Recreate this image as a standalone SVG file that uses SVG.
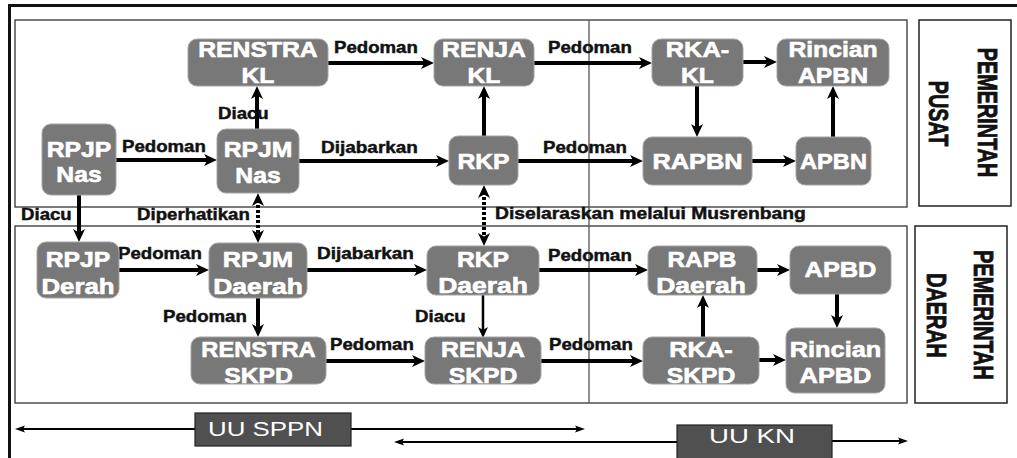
<svg xmlns="http://www.w3.org/2000/svg" width="1017" height="458" viewBox="0 0 1017 458">
<style>
.bg{fill:#fff}
.panel{fill:none;stroke:#333;stroke-width:1.3}
.lbox{fill:#fff;stroke:#222;stroke-width:1.5}
.n rect{fill:#787878;stroke:#a4a4a4;stroke-width:1}
.nt{font-family:"Liberation Sans",Arial,sans-serif;font-weight:bold;font-size:21.5px;fill:#fff;stroke:#fff;stroke-width:0.6;text-anchor:middle}
.lb{font-family:"Liberation Sans",Arial,sans-serif;font-weight:bold;font-size:16.5px;fill:#111;stroke:#111;stroke-width:0.45}
.vt{font-family:"Liberation Sans",Arial,sans-serif;font-weight:bold;font-size:19.8px;fill:#111;stroke:#111;stroke-width:0.6;text-anchor:middle}
.c{fill:none;stroke:#000;stroke-width:4;marker-end:url(#ah)}
.thin{fill:none;stroke:#000;stroke-width:2.5;marker-end:url(#ahm)}
.dot{fill:none;stroke:#000;stroke-width:4;stroke-dasharray:3 2;marker-start:url(#ah);marker-end:url(#ah)}
.bar{fill:none;stroke:#000;stroke-width:2;marker-end:url(#ahs)}
.ub{fill:#505050;stroke:#222;stroke-width:1.2}
.ut{font-family:"Liberation Sans",Arial,sans-serif;font-size:19.5px;fill:#fff}
</style>
<defs>
<marker id="ah" markerUnits="userSpaceOnUse" markerWidth="14" markerHeight="14" viewBox="0 0 14 14" refX="6" refY="7" orient="auto-start-reverse">
<path d="M0,1 L13,7 L0,13 L3.5,7 Z" fill="#000"/>
</marker>
<marker id="ahm" markerUnits="userSpaceOnUse" markerWidth="12" markerHeight="12" viewBox="0 0 12 12" refX="5" refY="6" orient="auto">
<path d="M0,1 L11,6 L0,11 L3,6 Z" fill="#000"/>
</marker>
<marker id="ahs" markerUnits="userSpaceOnUse" markerWidth="11" markerHeight="8" viewBox="0 0 11 8" refX="4" refY="4" orient="auto">
<path d="M0,0.5 L10,4 L0,7.5 L2,4 Z" fill="#000"/>
</marker>
</defs>
<rect class="bg" x="0" y="0" width="1017" height="458"/>
<path d="M9.5,458 V5.5 H1017" fill="none" stroke="#111" stroke-width="3"/>
<rect class="panel" x="15" y="20" width="892" height="187"/>
<rect class="panel" x="15" y="226" width="892" height="177"/>
<line x1="589" y1="20" x2="589" y2="403" stroke="#555" stroke-width="1.3"/>
<g id="label-pusat">
<rect class="lbox" x="919" y="20" width="92" height="186"/>
<text class="vt" transform="translate(988,112.5) rotate(90) scale(1,1.4)" y="7">PEMERINTAH</text>
<text class="vt" transform="translate(938.5,113.5) rotate(90) scale(1,1.4)" y="7">PUSAT</text>
</g>
<g id="label-daerah">
<rect class="lbox" x="915" y="226" width="92" height="177"/>
<text class="vt" transform="translate(984,315) rotate(90) scale(1,1.4)" y="7">PEMERINTAH</text>
<text class="vt" transform="translate(937,315.5) rotate(90) scale(1,1.4)" y="7">DAERAH</text>
</g>
<g id="connectors">
<path class="c" d="M116,160 H210"/>
<path class="c" d="M257,129 V93"/>
<path class="c" d="M328,63 H427"/>
<path class="c" d="M299,161 H442"/>
<path class="c" d="M484,136 V93"/>
<path class="c" d="M534,63 H645"/>
<path class="c" d="M518,161 H636"/>
<path class="c" d="M743,62 H770"/>
<path class="c" d="M697,86 V130"/>
<path class="c" d="M752,161 H789"/>
<path class="c" d="M833,137 V93"/>
<path class="c" d="M79,195 V235"/>
<path class="dot" d="M258,200 V236"/>
<path class="dot" d="M484,192 V239"/>
<path class="c" d="M119,270 H202"/>
<path class="c" d="M258,298 V330"/>
<path class="c" d="M307,270 H420"/>
<path class="thin" d="M483,295 V332"/>
<path class="c" d="M326,361 H418"/>
<path class="c" d="M539,270 H641"/>
<path class="c" d="M541,361 H636"/>
<path class="c" d="M703,337 V302"/>
<path class="c" d="M757,270 H783"/>
<path class="c" d="M837,294 V321"/>
<path class="c" d="M759,360 H779"/>
<text class="lb" transform="translate(122,152) scale(1.13,1)">Pedoman</text>
<text class="lb" transform="translate(218,119) scale(1.13,1)">Diacu</text>
<text class="lb" transform="translate(334,53) scale(1.13,1)">Pedoman</text>
<text class="lb" transform="translate(321,153) scale(1.15,1)">Dijabarkan</text>
<text class="lb" transform="translate(548,53) scale(1.13,1)">Pedoman</text>
<text class="lb" transform="translate(543,153) scale(1.13,1)">Pedoman</text>
<text class="lb" transform="translate(21,220) scale(1.13,1)">Diacu</text>
<text class="lb" transform="translate(137,220) scale(1.13,1)">Diperhatikan</text>
<text class="lb" transform="translate(495,219) scale(1.17,1)">Diselaraskan melalui Musrenbang</text>
<text class="lb" transform="translate(118,259) scale(1.13,1)">Pedoman</text>
<text class="lb" transform="translate(317,259) scale(1.15,1)">Dijabarkan</text>
<text class="lb" transform="translate(163,322) scale(1.13,1)">Pedoman</text>
<text class="lb" transform="translate(330,350) scale(1.13,1)">Pedoman</text>
<text class="lb" transform="translate(415,322) scale(1.13,1)">Diacu</text>
<text class="lb" transform="translate(548,261) scale(1.13,1)">Pedoman</text>
<text class="lb" transform="translate(549,350) scale(1.13,1)">Pedoman</text>
</g>
<g id="n-rpjp-nas" class="n"><rect x="42" y="124" width="74" height="71" rx="9"/>
<text class="nt" transform="translate(79,157) scale(1.15,1)">RPJP</text><text class="nt" transform="translate(79,182) scale(1.15,1)">Nas</text></g>
<g id="n-rpjm-nas" class="n"><rect x="217" y="129" width="82" height="64" rx="9"/>
<text class="nt" transform="translate(258,157) scale(1.15,1)">RPJM</text><text class="nt" transform="translate(258,183) scale(1.15,1)">Nas</text></g>
<g id="n-renstra-kl" class="n"><rect x="188" y="39" width="140" height="47" rx="9"/>
<text class="nt" transform="translate(258,57) scale(1.15,1)">RENSTRA</text><text class="nt" transform="translate(258,83) scale(1.15,1)">KL</text></g>
<g id="n-renja-kl" class="n"><rect x="434" y="39" width="100" height="47" rx="9"/>
<text class="nt" transform="translate(484,57) scale(1.15,1)">RENJA</text><text class="nt" transform="translate(484,83) scale(1.15,1)">KL</text></g>
<g id="n-rkp" class="n"><rect x="449" y="136" width="69" height="49" rx="9"/>
<text class="nt" transform="translate(483.5,169) scale(1.15,1)">RKP</text></g>
<g id="n-rka-kl" class="n"><rect x="652" y="39" width="91" height="47" rx="9"/>
<text class="nt" transform="translate(697.5,57) scale(1.18,1)">RKA-</text><text class="nt" transform="translate(697.5,83) scale(1.15,1)">KL</text></g>
<g id="n-rincian-apbn" class="n"><rect x="777" y="39" width="112" height="47" rx="9"/>
<text class="nt" transform="translate(833,57) scale(1.15,1)">Rincian</text><text class="nt" transform="translate(833,83) scale(1.15,1)">APBN</text></g>
<g id="n-rapbn" class="n"><rect x="643" y="137" width="109" height="48" rx="9"/>
<text class="nt" transform="translate(697.5,169) scale(1.18,1)">RAPBN</text></g>
<g id="n-apbn" class="n"><rect x="796" y="137" width="75" height="48" rx="9"/>
<text class="nt" transform="translate(833.5,169) scale(1.1,1)">APBN</text></g>
<g id="n-rpjp-derah" class="n"><rect x="37" y="242" width="82" height="56" rx="9"/>
<text class="nt" transform="translate(78,267) scale(1.15,1)">RPJP</text><text class="nt" transform="translate(78,294) scale(1.2,1)">Derah</text></g>
<g id="n-rpjm-daerah" class="n"><rect x="209" y="243" width="98" height="55" rx="9"/>
<text class="nt" transform="translate(258,267) scale(1.18,1)">RPJM</text><text class="nt" transform="translate(258,294) scale(1.23,1)">Daerah</text></g>
<g id="n-renstra-skpd" class="n"><rect x="191" y="337" width="135" height="47" rx="9"/>
<text class="nt" transform="translate(258.5,357) scale(1.1,1)">RENSTRA</text><text class="nt" transform="translate(258.5,383) scale(1.15,1)">SKPD</text></g>
<g id="n-rkp-daerah" class="n"><rect x="427" y="246" width="112" height="49" rx="9"/>
<text class="nt" transform="translate(483,267) scale(1.15,1)">RKP</text><text class="nt" transform="translate(483,293) scale(1.23,1)">Daerah</text></g>
<g id="n-renja-skpd" class="n"><rect x="425" y="337" width="116" height="47" rx="9"/>
<text class="nt" transform="translate(483,357) scale(1.15,1)">RENJA</text><text class="nt" transform="translate(483,383) scale(1.15,1)">SKPD</text></g>
<g id="n-rapb-daerah" class="n"><rect x="648" y="246" width="109" height="49" rx="9"/>
<text class="nt" transform="translate(702,267) scale(1.13,1)">RAPB</text><text class="nt" transform="translate(701,293) scale(1.23,1)">Daerah</text></g>
<g id="n-apbd" class="n"><rect x="790" y="246" width="101" height="48" rx="9"/>
<text class="nt" transform="translate(840.5,277) scale(1.18,1)">APBD</text></g>
<g id="n-rka-skpd" class="n"><rect x="643" y="337" width="116" height="47" rx="9"/>
<text class="nt" transform="translate(701,357) scale(1.18,1)">RKA-</text><text class="nt" transform="translate(701,383) scale(1.15,1)">SKPD</text></g>
<g id="n-rincian-apbd" class="n"><rect x="786" y="328" width="99" height="65" rx="9"/>
<text class="nt" transform="translate(835.5,357) scale(1.18,1)">Rincian</text><text class="nt" transform="translate(835.5,383) scale(1.18,1)">APBD</text></g>
<g id="uu-sppn">
<path class="bar" d="M195,429 H21"/>
<path class="bar" d="M351,429 H579"/>
<rect class="ub" x="195" y="413" width="156" height="33"/>
<text class="ut" x="208" y="436" textLength="115" lengthAdjust="spacingAndGlyphs">UU SPPN</text>
</g>
<g id="uu-kn">
<path class="bar" d="M677,442 H400"/>
<path class="bar" d="M832,441 H902"/>
<rect class="ub" x="677" y="425" width="155" height="40"/>
<text class="ut" x="709" y="443" textLength="86" lengthAdjust="spacingAndGlyphs">UU KN</text>
</g>
</svg>
